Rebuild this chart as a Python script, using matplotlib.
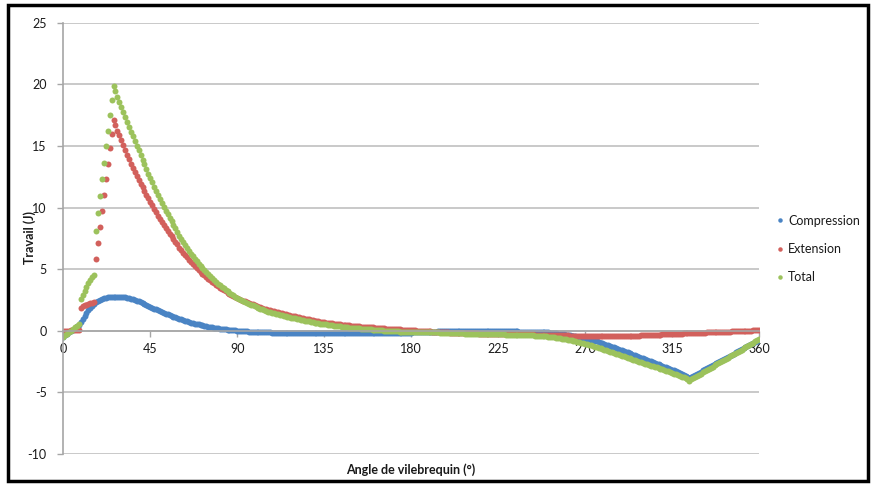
import matplotlib
matplotlib.use("Agg")
import matplotlib.pyplot as plt
from matplotlib.patches import Rectangle
import numpy as np

plt.rcParams['font.family'] = ['Lato', 'DejaVu Sans']
plt.rcParams['axes.unicode_minus'] = False

# Crank angle (deg), 1-degree steps
angles = list(range(0, 361))

# Compression work (J), one value per degree
compression = [
    -0.50, -0.38, -0.26, -0.14, -0.02, 0.10, 0.22, 0.35, 0.50, 0.70,
    0.95, 1.20, 1.45, 1.68, 1.88, 2.05, 2.20, 2.32, 2.43, 2.52,
    2.59, 2.65, 2.69, 2.72, 2.74, 2.75, 2.75, 2.76, 2.76, 2.75,
    2.74, 2.72, 2.70, 2.67, 2.64, 2.60, 2.55, 2.50, 2.45, 2.39,
    2.33, 2.25, 2.17, 2.09, 2.01, 1.94, 1.87, 1.80, 1.73, 1.66,
    1.59, 1.53, 1.46, 1.40, 1.33, 1.27, 1.21, 1.15, 1.09, 1.03,
    0.98, 0.92, 0.87, 0.82, 0.77, 0.72, 0.67, 0.63, 0.59, 0.55,
    0.51, 0.47, 0.44, 0.40, 0.37, 0.34, 0.31, 0.28, 0.26, 0.23,
    0.21, 0.18, 0.16, 0.14, 0.12, 0.10, 0.08, 0.07, 0.05, 0.03,
    0.02, 0.00, -0.01, -0.02, -0.04, -0.05, -0.06, -0.07, -0.08, -0.09,
    -0.10, -0.11, -0.12, -0.12, -0.13, -0.13, -0.14, -0.14, -0.15, -0.15,
    -0.15, -0.16, -0.16, -0.16, -0.16, -0.16, -0.16, -0.16, -0.16, -0.16,
    -0.16, -0.16, -0.16, -0.16, -0.16, -0.16, -0.16, -0.16, -0.16, -0.16,
    -0.16, -0.16, -0.16, -0.16, -0.16, -0.16, -0.16, -0.16, -0.16, -0.16,
    -0.17, -0.17, -0.17, -0.17, -0.17, -0.17, -0.17, -0.17, -0.17, -0.17,
    -0.17, -0.17, -0.17, -0.17, -0.17, -0.17, -0.17, -0.17, -0.17, -0.17,
    -0.17, -0.17, -0.17, -0.17, -0.17, -0.17, -0.17, -0.17, -0.17, -0.17,
    -0.17, -0.17, -0.17, -0.17, -0.17, -0.16, -0.16, -0.16, -0.16, -0.15,
    -0.15, -0.14, -0.14, -0.13, -0.12, -0.12, -0.11, -0.10, -0.09, -0.08,
    -0.08, -0.07, -0.06, -0.06, -0.05, -0.05, -0.04, -0.04, -0.04, -0.03,
    -0.03, -0.03, -0.03, -0.03, -0.03, -0.03, -0.03, -0.03, -0.03, -0.03,
    -0.03, -0.03, -0.03, -0.03, -0.03, -0.03, -0.03, -0.03, -0.03, -0.03,
    -0.03, -0.03, -0.03, -0.03, -0.04, -0.04, -0.04, -0.04, -0.04, -0.04,
    -0.04, -0.04, -0.05, -0.05, -0.05, -0.05, -0.06, -0.06, -0.06, -0.06,
    -0.06, -0.06, -0.07, -0.07, -0.08, -0.08, -0.09, -0.10, -0.11, -0.12,
    -0.13, -0.14, -0.16, -0.17, -0.19, -0.21, -0.23, -0.25, -0.28, -0.30,
    -0.32, -0.34, -0.37, -0.39, -0.42, -0.45, -0.48, -0.51, -0.55, -0.58,
    -0.62, -0.66, -0.70, -0.74, -0.78, -0.83, -0.87, -0.92, -0.97, -1.02,
    -1.07, -1.12, -1.17, -1.23, -1.28, -1.34, -1.40, -1.46, -1.52, -1.58,
    -1.64, -1.70, -1.76, -1.82, -1.88, -1.94, -2.00, -2.06, -2.12, -2.18,
    -2.24, -2.30, -2.36, -2.42, -2.48, -2.54, -2.60, -2.66, -2.72, -2.78,
    -2.84, -2.90, -2.96, -3.02, -3.08, -3.15, -3.22, -3.29, -3.36, -3.43,
    -3.50, -3.57, -3.64, -3.72, -3.85, -3.76, -3.67, -3.58, -3.49, -3.40,
    -3.31, -3.22, -3.14, -3.05, -2.96, -2.88, -2.79, -2.70, -2.62, -2.53,
    -2.44, -2.36, -2.27, -2.19, -2.10, -2.02, -1.93, -1.85, -1.76, -1.68,
    -1.59, -1.51, -1.42, -1.34, -1.25, -1.17, -1.08, -1.00, -0.91, -0.83,
    -0.75,
]

# Extension work (J), one value per degree
extension = [
    0.00, 0.00, 0.01, 0.02, 0.03, 0.04, 0.05, 0.06, 0.08, 1.85,
    1.97, 2.06, 2.13, 2.19, 2.24, 2.28, 2.32, 5.80, 7.10, 8.40,
    9.70, 11.00, 12.30, 13.50, 14.80, 16.00, 17.10, 16.70, 16.25, 15.85,
    15.45, 15.05, 14.65, 14.28, 13.92, 13.57, 13.22, 12.89, 12.57, 12.26,
    11.95, 11.64, 11.33, 11.03, 10.74, 10.45, 10.17, 9.89, 9.62, 9.35,
    9.09, 8.84, 8.59, 8.35, 8.11, 7.88, 7.66, 7.44, 7.23, 7.02,
    6.75, 6.54, 6.34, 6.15, 5.96, 5.78, 5.60, 5.43, 5.26, 5.10,
    4.94, 4.79, 4.64, 4.50, 4.36, 4.23, 4.10, 3.97, 3.85, 3.73,
    3.62, 3.51, 3.40, 3.30, 3.20, 3.10, 3.01, 2.92, 2.83, 2.75,
    2.67, 2.59, 2.52, 2.45, 2.38, 2.32, 2.26, 2.20, 2.14, 2.07,
    2.01, 1.95, 1.90, 1.85, 1.80, 1.75, 1.70, 1.65, 1.61, 1.57,
    1.53, 1.49, 1.45, 1.41, 1.37, 1.33, 1.30, 1.26, 1.23, 1.20,
    1.16, 1.12, 1.09, 1.05, 1.02, 0.99, 0.95, 0.92, 0.89, 0.86,
    0.83, 0.80, 0.77, 0.74, 0.72, 0.69, 0.67, 0.64, 0.62, 0.60,
    0.58, 0.56, 0.54, 0.52, 0.50, 0.48, 0.46, 0.45, 0.43, 0.42,
    0.40, 0.39, 0.37, 0.36, 0.34, 0.33, 0.32, 0.30, 0.29, 0.28,
    0.27, 0.25, 0.24, 0.23, 0.22, 0.21, 0.19, 0.18, 0.17, 0.16,
    0.15, 0.14, 0.13, 0.12, 0.11, 0.10, 0.09, 0.08, 0.07, 0.06,
    0.05, 0.04, 0.03, 0.02, 0.01, 0.00, -0.01, -0.02, -0.03, -0.04,
    -0.05, -0.06, -0.07, -0.08, -0.09, -0.10, -0.11, -0.12, -0.13, -0.14,
    -0.15, -0.16, -0.16, -0.17, -0.18, -0.18, -0.19, -0.19, -0.20, -0.20,
    -0.21, -0.21, -0.22, -0.22, -0.22, -0.23, -0.23, -0.23, -0.24, -0.24,
    -0.24, -0.25, -0.25, -0.25, -0.25, -0.26, -0.26, -0.26, -0.26, -0.27,
    -0.27, -0.27, -0.27, -0.28, -0.28, -0.28, -0.28, -0.29, -0.29, -0.29,
    -0.29, -0.30, -0.30, -0.30, -0.31, -0.31, -0.31, -0.32, -0.32, -0.32,
    -0.33, -0.33, -0.34, -0.34, -0.35, -0.35, -0.36, -0.36, -0.37, -0.37,
    -0.38, -0.38, -0.39, -0.39, -0.40, -0.40, -0.41, -0.41, -0.42, -0.42,
    -0.43, -0.43, -0.44, -0.44, -0.44, -0.45, -0.45, -0.45, -0.46, -0.46,
    -0.46, -0.46, -0.46, -0.46, -0.46, -0.46, -0.46, -0.45, -0.45, -0.45,
    -0.44, -0.44, -0.43, -0.43, -0.42, -0.41, -0.41, -0.40, -0.39, -0.38,
    -0.38, -0.37, -0.36, -0.35, -0.35, -0.34, -0.33, -0.32, -0.32, -0.31,
    -0.30, -0.29, -0.29, -0.28, -0.27, -0.26, -0.26, -0.25, -0.24, -0.23,
    -0.23, -0.22, -0.21, -0.21, -0.20, -0.19, -0.19, -0.18, -0.17, -0.17,
    -0.16, -0.15, -0.15, -0.14, -0.13, -0.13, -0.12, -0.11, -0.11, -0.10,
    -0.09, -0.09, -0.08, -0.07, -0.07, -0.06, -0.05, -0.05, -0.04, -0.03,
    -0.03, -0.02, -0.01, -0.01, 0.00, 0.01, 0.02, 0.03, 0.04, 0.05,
    0.06,
]

# Total = compression + extension (as in the source workbook)
total = [c + e for c, e in zip(compression, extension)]

series_names = ["Compression", "Extension", "Total"]
series_colors = ["#4a84c4", "#d2605c", "#9cc25c"]

x_ticks = [0, 45, 90, 135, 180, 225, 270, 315, 360]
y_ticks = [-10, -5, 0, 5, 10, 15, 20, 25]
x_label = "Angle de vilebrequin (°)"
y_label = "Travail (J)"

W, H = 873, 486
fig = plt.figure(figsize=(W / 100, H / 100), dpi=100)
ax = fig.add_axes([63.3 / W, 1 - 454 / H, (759 - 63.3) / W, (454 - 22.7) / H])

for name, data, col in zip(series_names, [compression, extension, total], series_colors):
    ax.plot(angles, data, linestyle="none", marker="o", ms=4.3, mew=0,
            color=col, label=name)

ax.set_xlim(0, 360)
ax.set_ylim(-10, 25)
ax.set_xticks(x_ticks)
ax.set_yticks(y_ticks)
ax.yaxis.grid(True, color="#c0c0c0", lw=1.2)
ax.set_axisbelow(True)

grey = "#a6a6a6"
for s in ["top", "right"]:
    ax.spines[s].set_visible(False)
ax.spines["left"].set_color(grey)
ax.spines["left"].set_linewidth(1.2)
ax.spines["bottom"].set_position(("data", 0))
ax.spines["bottom"].set_color(grey)
ax.spines["bottom"].set_linewidth(1.2)
ax.tick_params(axis="both", colors=grey, length=4, width=1, direction="out",
               labelsize=9, labelcolor="#1a1a1a")
ax.tick_params(axis="y", pad=8)
ax.tick_params(axis="x", pad=5)

ax.text(0.5, -0.022, x_label, transform=ax.transAxes, ha="center", va="top",
        fontsize=9, fontweight="bold", color="#1a1a1a")
fig.text(30 / W, 1 - 238 / H, y_label, rotation=90, ha="center", va="center",
         fontsize=9, fontweight="bold", color="#1a1a1a")

leg = ax.legend(loc="center left", bbox_to_anchor=(768 / W, 1 - 249 / H),
                bbox_transform=fig.transFigure, frameon=False, fontsize=9,
                handlelength=0.5, handletextpad=0.4, labelspacing=1.3,
                markerscale=0.75, borderpad=0.2)
for t in leg.get_texts():
    t.set_color("#1a1a1a")

fig.patches.append(Rectangle((8 / W, 1 - 481 / H), 860 / W, 476 / H, fill=False,
                             ec="black", lw=2.5, transform=fig.transFigure))

fig.savefig("out.png", dpi=100)
